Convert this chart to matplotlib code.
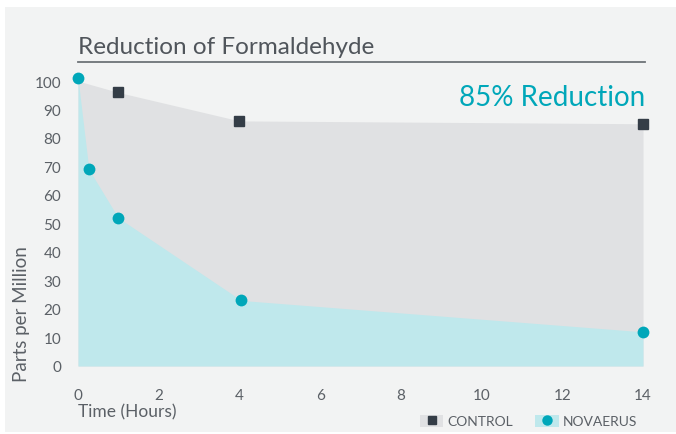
import matplotlib.pyplot as plt
from matplotlib.patches import Patch, Rectangle
from matplotlib.lines import Line2D

plt.rcParams['font.family'] = ['Lato', 'DejaVu Sans']

# data
hours_ctrl = [0, 1, 4, 14]
ppm_ctrl = [100, 96, 86, 85]
hours_nov = [0, 0.27, 1, 4.05, 14]
ppm_nov = [101, 69, 52, 23, 12]
xticks = [0, 2, 4, 6, 8, 10, 12, 14]
yticks = [0, 10, 20, 30, 40, 50, 60, 70, 80, 90, 100]

grey_fill = '#e0e1e3'
teal_fill = '#bfe8ec'
teal = '#00a7b9'
dark = '#343d47'
txt = '#5b6066'

fig = plt.figure(figsize=(6.76, 4.35), dpi=100)
fig.patch.set_facecolor('white')
fig.patches.append(Rectangle((5/676, 0.004), 1, 1 - 8/435 - 0.004, transform=fig.transFigure,
                             facecolor='#f2f3f3', edgecolor='none', zorder=-10))

ax = fig.add_axes([78/676, 1 - 367/435, 565/676, 285/435])
ax.set_facecolor('none')

ax.fill_between(hours_ctrl, ppm_ctrl, 0, color=grey_fill, lw=0, zorder=1)
ax.fill_between(hours_nov, ppm_nov, 0, color=teal_fill, lw=0, zorder=2)
ax.plot(hours_ctrl[1:], ppm_ctrl[1:], 's', color=dark, ms=7, clip_on=False, zorder=4)
ax.plot(hours_nov, ppm_nov, 'o', color=teal, ms=8.5, mec='none', clip_on=False, zorder=5)

ax.set_xlim(0, 14)
ax.set_ylim(0, 100)
ax.set_xticks(xticks)
ax.set_yticks(yticks)
for s in ax.spines.values():
    s.set_visible(False)
ax.tick_params(length=0, labelsize=11, labelcolor=txt)
ax.tick_params(axis='x', pad=16)
ax.tick_params(axis='y', pad=12)

# title with rule underneath
fig.text(78/676, 1 - 47/435, 'Reduction of Formaldehyde', fontsize=17.5, color='#50555b',
         va='center', ha='left')
fig.add_artist(Line2D([78/676, 645/676], [1 - 63/435, 1 - 63/435], color='#6e7378', lw=1.3))
fig.text(645/676, 1 - 98/435, '85% Reduction', fontsize=20, color=teal,
         va='center', ha='right')

fig.text(22/676, 1 - 314/435, 'Parts per Million', rotation=90, fontsize=13.5, color=txt,
         va='center', ha='center')
fig.text(78/676, 1 - 412/435, 'Time (Hours)', fontsize=12.5, color=txt, va='center', ha='left')

h_ctrl = (Patch(facecolor=grey_fill, edgecolor='none'),
          Line2D([], [], marker='s', color=dark, ls='none', ms=6))
h_nov = (Patch(facecolor=teal_fill, edgecolor='none'),
         Line2D([], [], marker='o', color=teal, mec='none', ls='none', ms=7.5))
leg = fig.legend([h_ctrl, h_nov], ['CONTROL', 'NOVAERUS'], ncol=2, frameon=False,
                 loc='center right', bbox_to_anchor=(650/676, 1 - 422/435),
                 fontsize=10, labelcolor=txt, handlelength=1.7, handleheight=1.0,
                 handletextpad=0.3, columnspacing=1.6)

fig.savefig('out.png', dpi=100)
